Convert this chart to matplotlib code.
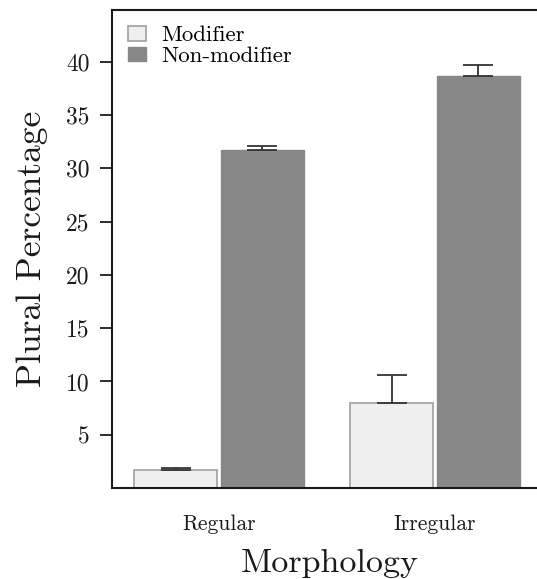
import matplotlib
matplotlib.use("Agg")
import matplotlib.pyplot as plt
import numpy as np

categories = ["Regular", "Irregular"]
series_names = ["Modifier", "Non-modifier"]
modifier_vals = [1.7, 7.98]
modifier_err = [0.2, 2.66]
nonmod_vals = [31.7, 38.65]
nonmod_err = [0.35, 1.0]
yticks = [5, 10, 15, 20, 25, 30, 35, 40]

plt.rcParams['font.family'] = ['cmr10', 'DejaVu Serif']
plt.rcParams['axes.formatter.use_mathtext'] = True
plt.rcParams['mathtext.fontset'] = 'cm'

fig = plt.figure(figsize=(5.37, 5.79), dpi=100)
ax = fig.add_axes([0.2086, 0.157, 0.812, 0.826])

x = np.arange(len(categories))
w = 0.385
off = 0.2
light = "#efefef"
dark = "#888888"
ax.bar(x - off, modifier_vals, w, color=light, edgecolor="#a0a0a0", linewidth=1.2,
       label=series_names[0], zorder=2)
ax.bar(x + off, nonmod_vals, w, color=dark, edgecolor=dark, linewidth=1.0,
       label=series_names[1], zorder=2)
ax.errorbar(x - off, modifier_vals, yerr=[np.zeros(2), modifier_err], fmt="none",
            ecolor="#333333", elinewidth=1.3, capsize=11, capthick=1.3, zorder=3)
ax.errorbar(x + off, nonmod_vals, yerr=[np.zeros(2), nonmod_err], fmt="none",
            ecolor="#333333", elinewidth=1.3, capsize=11, capthick=1.3, zorder=3)

ax.set_xlim(-0.495, 1.523)
ax.set_ylim(0, 44.85)
ax.set_yticks(yticks)
ax.set_yticklabels([str(t) for t in yticks])
ax.set_xticks(x)
ax.set_xticklabels(categories)

for s in ["left", "bottom", "top", "right"]:
    ax.spines[s].set_linewidth(1.5)
    ax.spines[s].set_color("#1a1a1a")

ax.tick_params(axis="y", length=9, width=1.3, pad=7, labelsize=17, colors="#1a1a1a")
ax.tick_params(axis="x", length=0, pad=19, labelsize=15.5, colors="#1a1a1a")

ax.set_ylabel("Plural Percentage", fontsize=25.5, labelpad=13, color="#1a1a1a")
ax.set_xlabel("Morphology", fontsize=24.5, labelpad=11, color="#1a1a1a")

leg = ax.legend(loc="upper left", frameon=False, fontsize=16.5, handlelength=0.8,
                handleheight=0.6, handletextpad=0.65, labelspacing=0.05,
                borderaxespad=0.4, borderpad=0.3)

fig.savefig("out.png", dpi=100)
